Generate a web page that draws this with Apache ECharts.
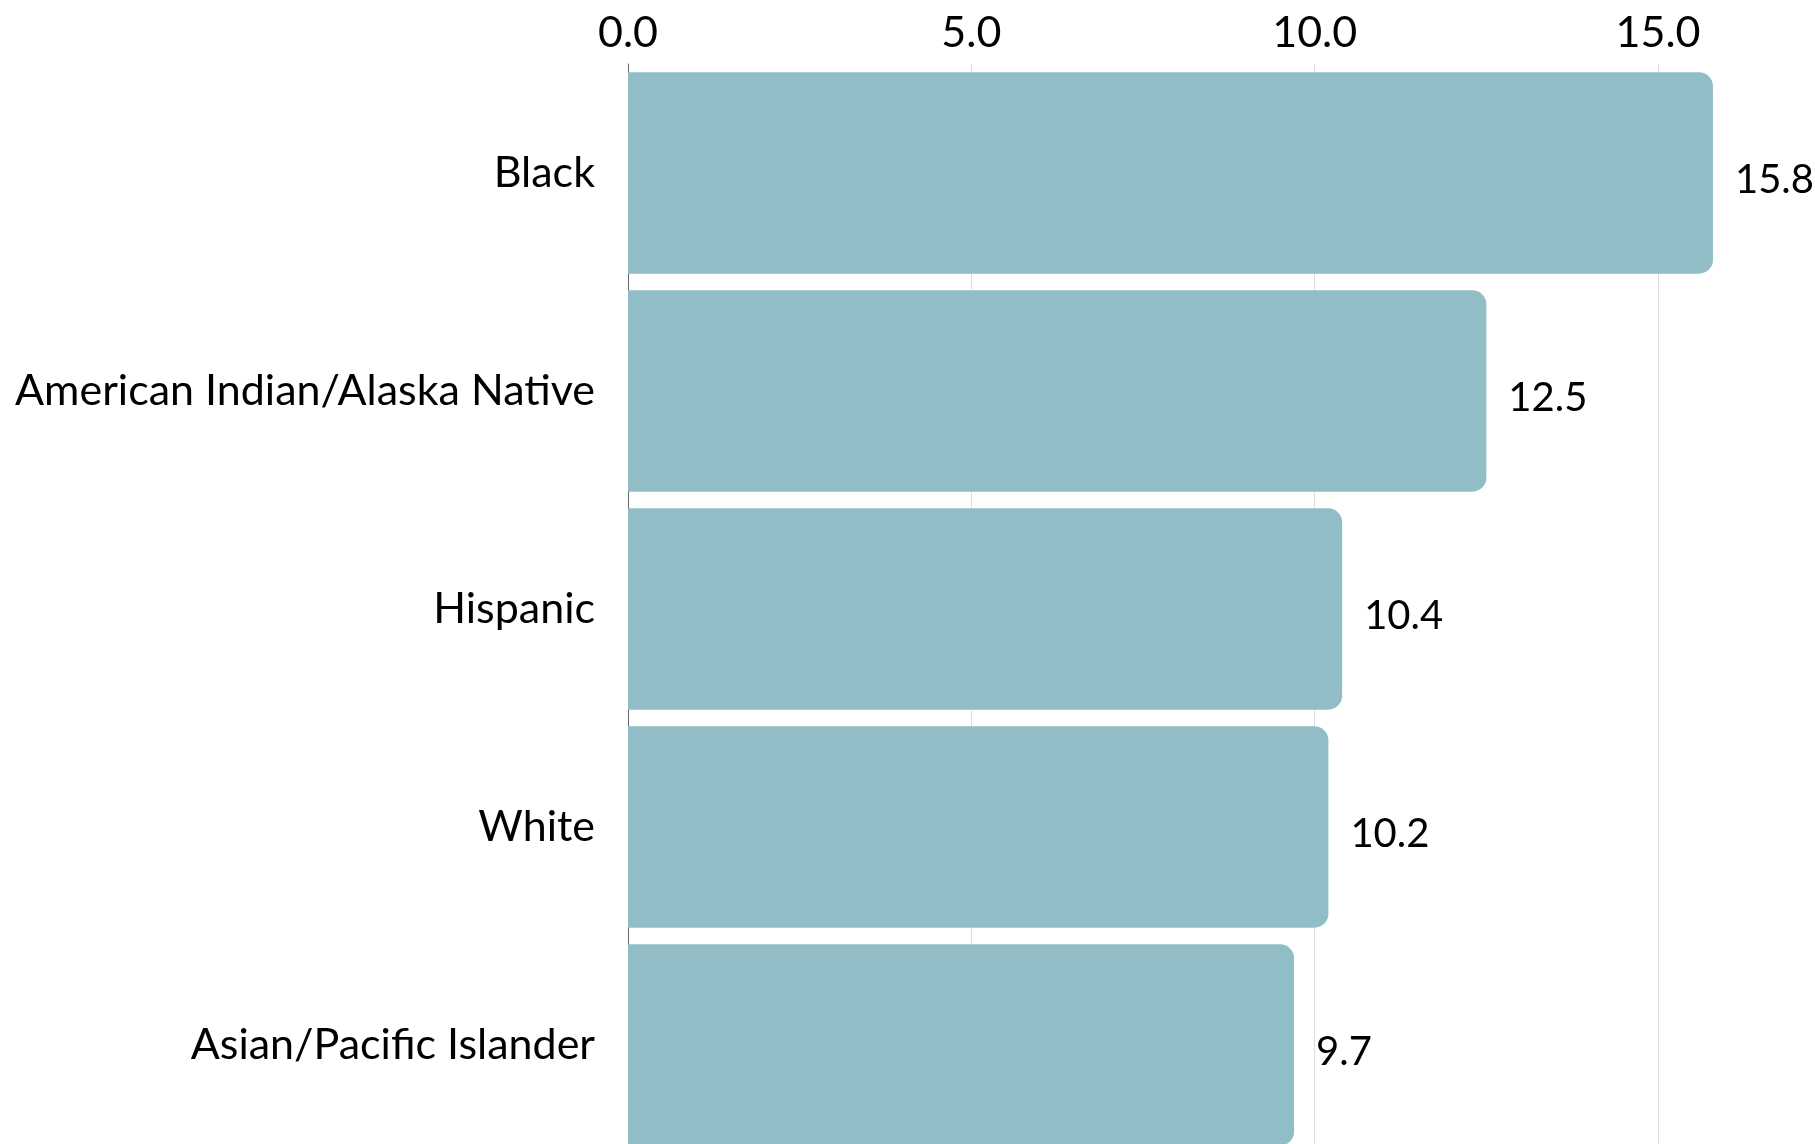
<!DOCTYPE html>
<html>
<head>
<meta charset="utf-8">
<script src="https://cdn.jsdelivr.net/npm/echarts@6/dist/echarts.min.js"></script>
<style>
html,body{margin:0;padding:0;background:#fff;}
#chart{width:1815px;height:1144px;}
</style>
</head>
<body>
<div id="chart"></div>
<script>
const categories = ["Black", "American Indian/Alaska Native", "Hispanic", "White", "Asian/Pacific Islander"];
const values = [15.8, 12.5, 10.4, 10.2, 9.7];
const tickValues = [0, 5, 10, 15];

const chart = echarts.init(document.getElementById('chart'), null, {renderer: 'canvas'});
const font = 'Lato';
chart.setOption({
  animation: false,
  backgroundColor: '#ffffff',
  grid: {left: 628, top: 64, width: 1098.7, height: 1090, containLabel: false, outerBoundsMode: 'none'},
  xAxis: {
    type: 'value',
    position: 'top',
    min: 0,
    max: 16,
    interval: 5,
    axisLine: {show: false},
    axisTick: {show: false},
    axisLabel: {
      showMaxLabel: false,
      margin: 9,
      color: '#000',
      fontFamily: font,
      fontSize: 43,
      formatter: v => tickValues.includes(v) ? v.toFixed(1) : ''
    },
    splitLine: {show: true, showMinLine: false, showMaxLine: false, lineStyle: {color: '#dddddd', width: 1}}
  },
  yAxis: {
    type: 'category',
    inverse: true,
    data: categories,
    axisLine: {show: true, lineStyle: {color: '#666666', width: 1}},
    axisTick: {show: false},
    axisLabel: {margin: 33, color: '#000', fontFamily: font, fontSize: 43, padding: [7, 0, 0, 0]}
  },
  series: [{
    type: 'bar',
    data: values,
    barCategoryGap: 16.7,
    itemStyle: {color: '#91bec6', borderRadius: [0, 14, 14, 0]},
    label: {
      show: true,
      position: 'right',
      distance: 22,
      offset: [0, 7],
      color: '#000',
      fontFamily: font,
      fontSize: 40,
      formatter: p => p.value.toFixed(1)
    }
  }]
});
</script>
</body>
</html>
